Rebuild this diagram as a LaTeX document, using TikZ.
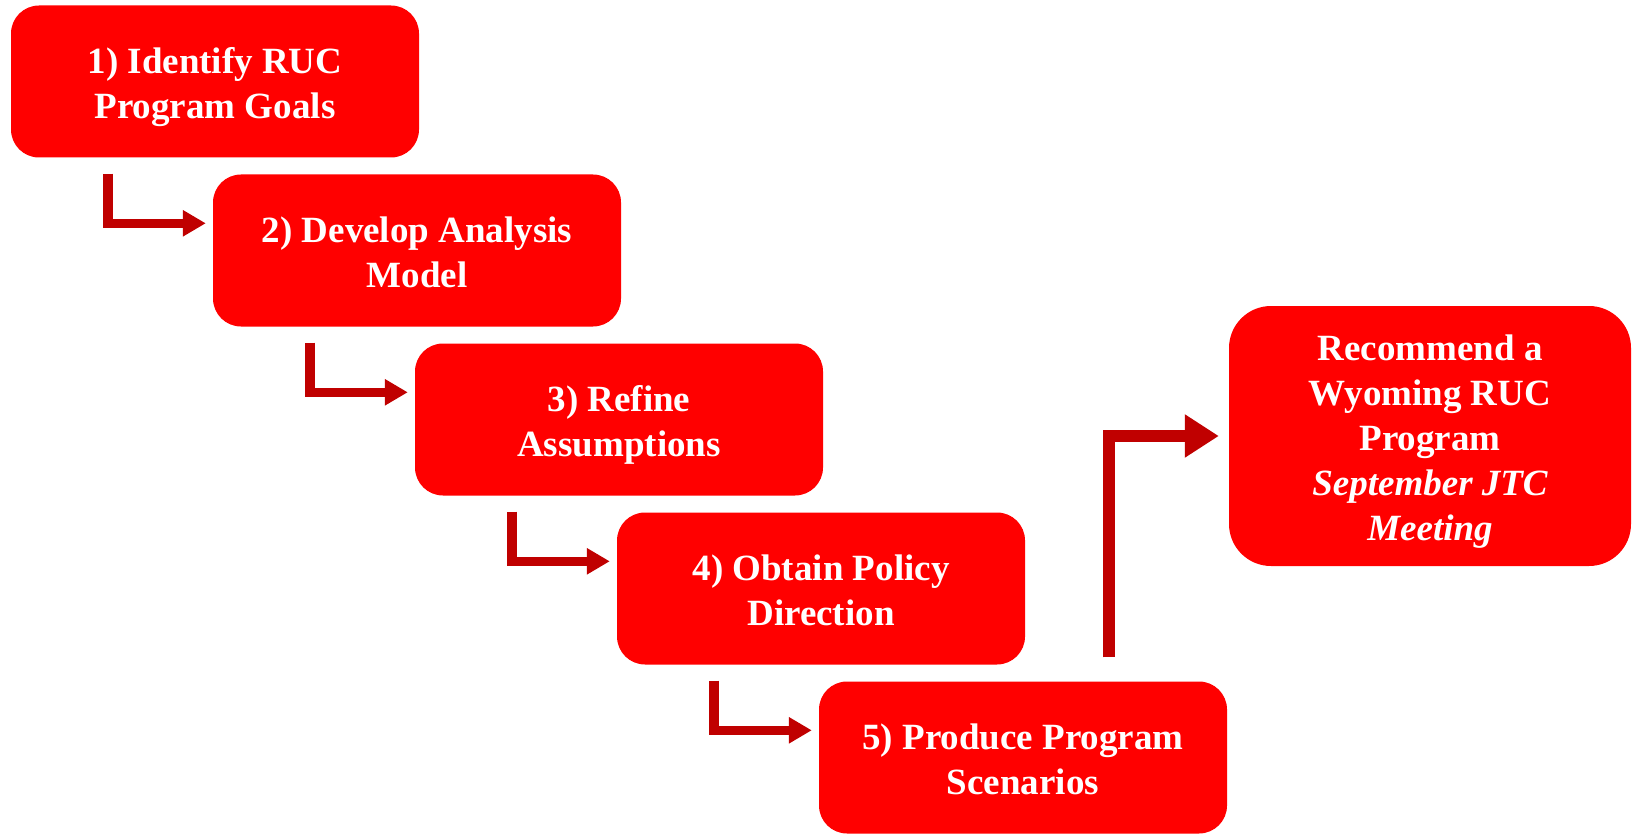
\documentclass[tikz,border=0pt]{standalone}
\usepackage{fontspec}
\setmainfont{Liberation Serif}
\usepackage{tikz}
\usetikzlibrary{arrows.meta, positioning, calc}

\definecolor{boxred}{HTML}{FF0000}
\definecolor{arrowred}{HTML}{C00000}

\begin{document}
\begin{tikzpicture}[x=1pt, y=-1pt,
    stepbox/.style={fill=boxred, rounded corners=28pt, minimum width=408pt,
      minimum height=152pt, inner sep=0pt, align=center, text=white,
      font=\fontsize{37}{45}\selectfont\bfseries,
      text height=82pt, text depth=8pt},
    goalbox/.style={stepbox, rounded corners=42pt, minimum width=402pt,
      minimum height=260pt, text height=217pt},
    steparrow/.style={draw=arrowred, line width=9.5pt,
      -{Triangle[length=23pt, width=25pt]}},
    goalarrow/.style={draw=arrowred, line width=12.5pt,
      -{Triangle[length=34pt, width=41pt]}}]
    \useasboundingbox (0,0) rectangle (1632,834);

    % 五个步骤,阶梯排列
    \node[stepbox] (s1) at (215,81.5) {1) Identify RUC\\Program Goals};
    \node[stepbox] (s2) at (417,250.5) {2) Develop Analysis\\Model};
    \node[stepbox] (s3) at (619,419.5) {3) Refine\\Assumptions};
    \node[stepbox] (s4) at (821,588.5) {4) Obtain Policy\\Direction};
    \node[stepbox] (s5) at (1023,757.5) {5) Produce Program\\Scenarios};

    % 最终建议
    \node[goalbox] (rec) at (1430,436) {Recommend a\\Wyoming RUC\\Program\\
      {\itshape September JTC}\\{\itshape Meeting}};

    % 步骤之间的折线箭头
    \draw[steparrow] ($(s1.south west)+(97,16)$) |- ($(s2.north west)+(-7,49)$);
    \draw[steparrow] ($(s2.south west)+(97,16)$) |- ($(s3.north west)+(-7,49)$);
    \draw[steparrow] ($(s3.south west)+(97,16)$) |- ($(s4.north west)+(-7,49)$);
    \draw[steparrow] ($(s4.south west)+(97,16)$) |- ($(s5.north west)+(-7,49)$);

    % 从第5步指向建议
    \draw[goalarrow] ($(s5.north west)+(290,-24)$) |- ($(rec.west)+(-10,0)$);
\end{tikzpicture}
\end{document}
